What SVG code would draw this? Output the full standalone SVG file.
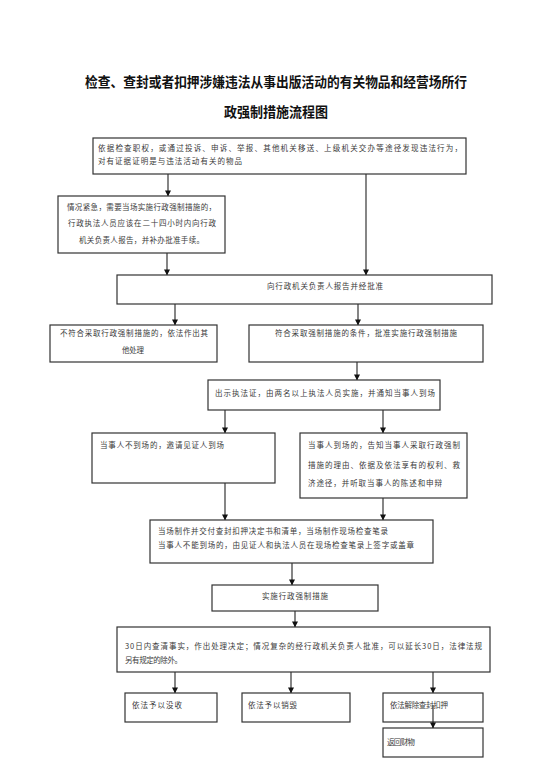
<svg xmlns="http://www.w3.org/2000/svg" width="550" height="776" viewBox="0 0 550 776">
<style>
.box{fill:#fff;stroke:#333;stroke-width:1.2}
.t{font-family:"Noto Sans CJK SC","Noto Sans",sans-serif;font-size:7.5px;fill:#3a3a3a}
.title{font-family:"Noto Sans CJK SC","Noto Sans",sans-serif;font-size:14px;font-weight:bold;fill:#111}
.c{stroke:#222;stroke-width:1.1;fill:none;marker-end:url(#ah)}
</style>
<defs>
<marker id="ah" viewBox="0 0 8 8" refX="7.5" refY="4" markerWidth="6" markerHeight="6" markerUnits="userSpaceOnUse" orient="auto">
<path d="M0,0 L8,4 L0,8 Z" fill="#111"/>
</marker>
</defs>
<rect width="550" height="776" fill="#fff"/>
<g id="title">
<text class="title" x="85" y="87" textLength="382" lengthAdjust="spacingAndGlyphs">检查、查封或者扣押涉嫌违法从事出版活动的有关物品和经营场所行</text>
<text class="title" x="224" y="117" textLength="104" lengthAdjust="spacingAndGlyphs">政强制措施流程图</text>
</g>
<g id="connectors">
<line class="c" x1="168" y1="174" x2="168" y2="196"/>
<line class="c" x1="366" y1="174" x2="366" y2="275"/>
<line class="c" x1="167" y1="253" x2="167" y2="275"/>
<line class="c" x1="175" y1="304" x2="175" y2="325"/>
<line class="c" x1="358" y1="304" x2="358" y2="325"/>
<line class="c" x1="357" y1="362" x2="357" y2="380"/>
<line class="c" x1="225" y1="410" x2="225" y2="433"/>
<line class="c" x1="383" y1="410" x2="383" y2="433"/>
<line class="c" x1="225" y1="483" x2="225" y2="520"/>
<line class="c" x1="383" y1="498" x2="383" y2="520"/>
<line class="c" x1="292" y1="563" x2="292" y2="585"/>
<line class="c" x1="295" y1="611" x2="295" y2="627"/>
<line class="c" x1="175" y1="672" x2="175" y2="693"/>
<line class="c" x1="291" y1="672" x2="291" y2="693"/>
<line class="c" x1="433" y1="672" x2="433" y2="693"/>
</g>
<g id="n1">
<rect class="box" x="93" y="138" width="373" height="36"/>
<text class="t" x="98" y="151" textLength="364" lengthAdjust="spacing">依据检查职权，或通过投诉、申诉、举报、其他机关移送、上级机关交办等途径发现违法行为，</text>
<text class="t" x="98" y="164" textLength="144" lengthAdjust="spacing">对有证据证明是与违法活动有关的物品</text>
</g>
<g id="n2">
<rect class="box" x="58" y="196" width="167" height="57"/>
<text class="t" x="67" y="210" textLength="149" lengthAdjust="spacing">情况紧急，需要当场实施行政强制措施的，</text>
<text class="t" x="68" y="226" textLength="148" lengthAdjust="spacing">行政执法人员应该在二十四小时内向行政</text>
<text class="t" x="79" y="243" textLength="125" lengthAdjust="spacing">机关负责人报告，并补办批准手续。</text>
</g>
<g id="n3">
<rect class="box" x="117" y="275" width="375" height="29"/>
<text class="t" x="267" y="289" textLength="116" lengthAdjust="spacing">向行政机关负责人报告并经批准</text>
</g>
<g id="n4">
<rect class="box" x="50" y="325" width="167" height="37"/>
<text class="t" x="60" y="336" textLength="148" lengthAdjust="spacing">不符合采取行政强制措施的，依法作出其</text>
<text class="t" x="122" y="353" textLength="22" lengthAdjust="spacing">他处理</text>
</g>
<g id="n5">
<rect class="box" x="249" y="325" width="234" height="37"/>
<text class="t" x="275" y="336" textLength="182" lengthAdjust="spacing">符合采取强制措施的条件，批准实施行政强制措施</text>
</g>
<g id="n6">
<rect class="box" x="208" y="380" width="232" height="30"/>
<text class="t" x="215" y="396" textLength="220" lengthAdjust="spacing">出示执法证，由两名以上执法人员实施，并通知当事人到场</text>
</g>
<g id="n7">
<rect class="box" x="92" y="433" width="183" height="50"/>
<text class="t" x="100" y="448" textLength="124" lengthAdjust="spacing">当事人不到场的，邀请见证人到场</text>
</g>
<g id="n8">
<rect class="box" x="300" y="433" width="167" height="65"/>
<text class="t" x="308" y="448" textLength="152" lengthAdjust="spacing">当事人到场的，告知当事人采取行政强制</text>
<text class="t" x="308" y="468" textLength="152" lengthAdjust="spacing">措施的理由、依据及依法享有的权利、救</text>
<text class="t" x="308" y="486" textLength="134" lengthAdjust="spacing">济途径，并听取当事人的陈述和申辩</text>
</g>
<g id="n9">
<rect class="box" x="150" y="520" width="283" height="43"/>
<text class="t" x="158" y="534" textLength="230" lengthAdjust="spacing">当场制作并交付查封扣押决定书和清单，当场制作现场检查笔录</text>
<text class="t" x="158" y="548" textLength="256" lengthAdjust="spacing">当事人不能到场的，由见证人和执法人员在现场检查笔录上签字或盖章</text>
</g>
<g id="n10">
<rect class="box" x="212" y="585" width="166" height="26"/>
<text class="t" x="262" y="599" textLength="66" lengthAdjust="spacing">实施行政强制措施</text>
</g>
<g id="n11">
<rect class="box" x="117" y="627" width="373" height="45"/>
<text class="t" x="125" y="649" textLength="357" lengthAdjust="spacing">30日内查清事实，作出处理决定；情况复杂的经行政机关负责人批准，可以延长30日，法律法规</text>
<text class="t" x="125" y="663" textLength="57" lengthAdjust="spacing">另有规定的除外。</text>
</g>
<g id="n12">
<rect class="box" x="125" y="693" width="92" height="29"/>
<text class="t" x="132" y="708" textLength="50" lengthAdjust="spacing">依法予以没收</text>
</g>
<g id="n13">
<rect class="box" x="242" y="693" width="108" height="29"/>
<text class="t" x="248" y="708" textLength="49" lengthAdjust="spacing">依法予以销毁</text>
</g>
<g id="n14">
<rect class="box" x="383" y="693" width="100" height="29"/>
<text class="t" x="390" y="708" textLength="58" lengthAdjust="spacing">依法解除查封扣押</text>
</g>
<g id="n15">
<rect class="box" x="383" y="728" width="100" height="29"/>
<text class="t" x="387" y="745" textLength="28" lengthAdjust="spacing">返回财物</text>
</g>
<g id="connectors2">
<line class="c" x1="433" y1="705" x2="433" y2="728"/>
</g>
</svg>
